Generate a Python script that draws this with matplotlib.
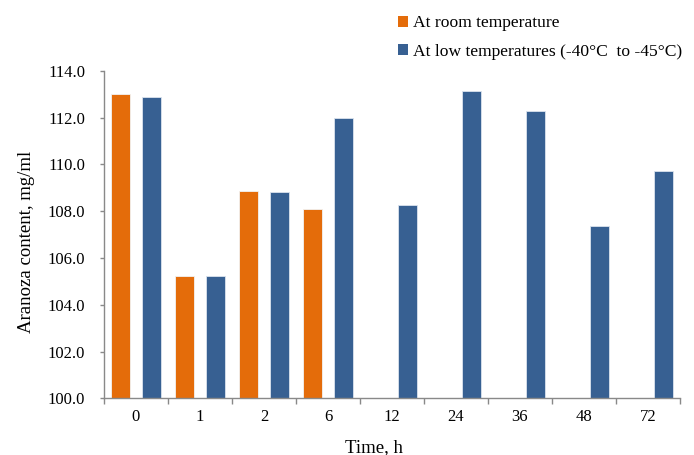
import numpy as np
import matplotlib.pyplot as plt
from matplotlib.patches import Patch

plt.rcParams["font.family"] = ["Liberation Serif", "DejaVu Serif"]

# Datos
times = ["0", "1", "2", "6", "12", "24", "36", "48", "72"]
room_temp = [113.02, 105.21, 108.87, 108.09, np.nan, np.nan, np.nan, np.nan, np.nan]
low_temp = [112.89, 105.21, 108.82, 111.99, 108.27, 113.13, 112.29, 107.38, 109.71]

ORANGE = "#E46C0A"
BLUE = "#376092"
AXIS_GRAY = "#898989"

fig = plt.figure(figsize=(6.94, 4.55), dpi=100)
ax = fig.add_axes([104 / 694, 0.1246, 576 / 694, 0.72])

x = np.arange(len(times))
offset = 0.245
width = 0.305
ax.bar(x - offset, np.array(room_temp) - 100, width, bottom=100, color=ORANGE,
       edgecolor="#f2f2f2", linewidth=0.6, zorder=2)
ax.bar(x + offset, np.array(low_temp) - 100, width, bottom=100, color=BLUE,
       edgecolor="#dbe3ee", linewidth=0.6, zorder=2)

ax.set_xlim(-0.5, len(times) - 0.5)
ax.set_ylim(100, 114)
yt = np.arange(100, 114.1, 2)
ax.set_yticks(yt)
ax.set_yticklabels([f"{v:.1f}" for v in yt])

# Marcas del eje X en los límites entre categorías
ax.set_xticks(np.arange(-0.5, len(times), 1.0))
ax.set_xticklabels([])
ax.set_xticks(x, minor=True)
ax.set_xticklabels(times, minor=True)
ax.tick_params(axis="x", which="major", length=4, width=1, color=AXIS_GRAY, direction="out")
ax.tick_params(axis="x", which="minor", length=0, pad=8, labelsize=12)
ax.tick_params(axis="y", length=3, width=1, color=AXIS_GRAY, direction="out",
               pad=10.5, labelsize=12)

for side in ("top", "right"):
    ax.spines[side].set_visible(False)
for side in ("left", "bottom"):
    ax.spines[side].set_color(AXIS_GRAY)
    ax.spines[side].set_linewidth(1)

ax.set_xlabel("Time, h", fontsize=13.5)
ax.set_ylabel("Aranoza content, mg/ml", fontsize=13.5)
ax.yaxis.set_label_coords(-0.12, 0.476)
ax.xaxis.set_label_coords(0.469, -0.123)

handles = [
    Patch(facecolor=ORANGE, edgecolor="none", label="At room temperature"),
    Patch(facecolor=BLUE, edgecolor="none", label="At low temperatures (-40°C  to -45°C)"),
]
fig.legend(handles=handles, loc="upper left", bbox_to_anchor=(398 / 694, 0.966),
           frameon=False, fontsize=12.6, handlelength=0.58, handleheight=0.58,
           handletextpad=0.3, labelspacing=0.7, borderpad=0, borderaxespad=0)

fig.savefig("out.png", dpi=100, facecolor="white")
